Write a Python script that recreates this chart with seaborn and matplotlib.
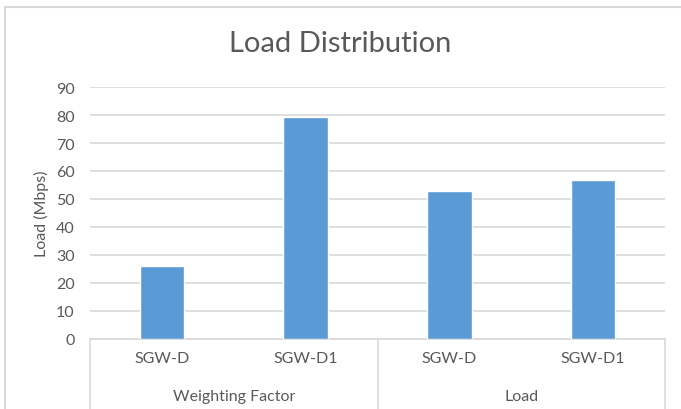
import pandas as pd
import matplotlib
matplotlib.use('Agg')
import matplotlib.pyplot as plt
import seaborn as sns
from matplotlib.patches import Rectangle

# data
groups = ['Weighting Factor', 'Weighting Factor', 'Load', 'Load']
gateways = ['SGW-D', 'SGW-D1', 'SGW-D', 'SGW-D1']
load_mbps = [26, 79.3, 53, 56.8]
group_names = ['Weighting Factor', 'Load']

df = pd.DataFrame({'group': groups, 'gateway': gateways, 'load': load_mbps})
df['key'] = df['group'] + '|' + df['gateway']

sns.set_style('white')
plt.rcParams['font.family'] = ['Lato', 'DejaVu Sans']
grey = '#595959'
line_grey = '#d9d9d9'

fig = plt.figure(figsize=(6.81, 4.10), dpi=100)
ax = fig.add_axes([90 / 681, 1 - 340 / 410, 575 / 681, 252 / 410])

sns.barplot(data=df, x='key', y='load', color='#5B9BD5', width=0.31,
            saturation=1, ax=ax, zorder=3)

ax.set_xlim(-0.5, 3.5)
ax.set_ylim(0, 90)
ax.set_yticks(range(0, 91, 10))
ax.yaxis.grid(True, color=line_grey, lw=1.2, zorder=0)
ax.tick_params(axis='y', length=0, labelsize=11.5, labelcolor=grey, pad=11)
ax.set_ylabel('Load (Mbps)', fontsize=11.5, color=grey, labelpad=5)
ax.set_xlabel('')
ax.set_xticks(range(len(gateways)))
ax.set_xticklabels(gateways, fontsize=11.5, color=grey)
ax.tick_params(axis='x', length=0, pad=9)
for side in ['top', 'right', 'left']:
    ax.spines[side].set_visible(False)
ax.spines['bottom'].set_color(line_grey)
ax.spines['bottom'].set_linewidth(1.2)

# group dividers and group labels below the axis
trans = ax.get_xaxis_transform()
for xpos in [-0.5, 1.5, 3.5]:
    ax.plot([xpos, xpos], [0, -0.3], color=line_grey, lw=1.2,
            transform=trans, clip_on=False)
for i, name in enumerate(group_names):
    ax.text(2 * i + 0.5, -0.225, name, transform=trans, ha='center',
            va='center', fontsize=11.5, color=grey)

fig.text(0.5, 1 - 44 / 410, 'Load Distribution', ha='center', va='center',
         fontsize=21, color=grey)

# outer chart frame
fig.patches.append(Rectangle((5 / 681, -0.1), 1.0, 1 - 8 / 410 + 0.1,
                             transform=fig.transFigure, fill=False,
                             edgecolor=line_grey, lw=1.5))

fig.savefig('out.png', dpi=100)
